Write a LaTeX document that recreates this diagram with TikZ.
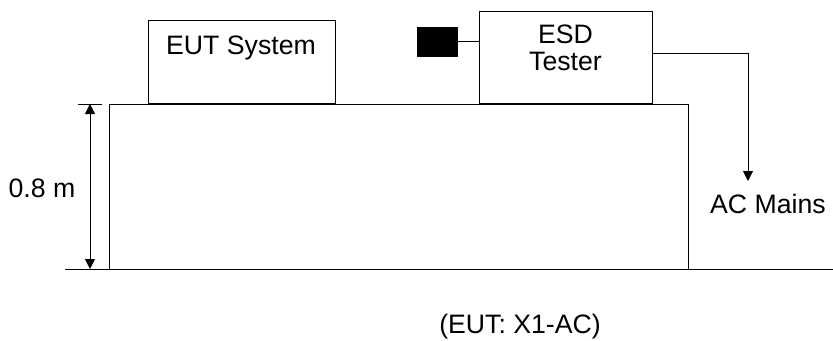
\documentclass[tikz,border=0pt]{standalone}
\usepackage{fontspec}
\setmainfont{Liberation Sans}
\usetikzlibrary{arrows.meta}
\tikzset{
  box/.style={draw, line width=0.75pt, rectangle, inner sep=0pt},
  lbl/.style={font=\fontsize{20}{22}\selectfont},
  tip/.style={-{Triangle[width=7.5pt,length=7.5pt]}},
}
\begin{document}
\begin{tikzpicture}[x=0.75pt, y=-0.75pt, line width=0.75pt]
\useasboundingbox (0,0) rectangle (833,340);

% floor and table
\path (65,269) coordinate (fl) (833,269) coordinate (fr);
\draw (fl) -- (fr);
\path (109,269) coordinate (tl) (688,269) coordinate (tr);
\draw (tl) |- (688,104) coordinate (tt) -- (tr);

% equipment on the table
\node[box, minimum width=187*0.75pt, minimum height=83*0.75pt, anchor=south west] (eut) at (148,104) {};
\node[lbl] (euttxt) at (241,48) {EUT System};
\node[box, minimum width=173*0.75pt, minimum height=92*0.75pt, anchor=south west] (esd) at (479,104) {};
\node[lbl, align=center] (esdtxt) at (565.5,48) {ESD\\[-1.5pt]Tester};
\node[fill, draw, minimum width=40*0.75pt, minimum height=29*0.75pt, inner sep=0pt] (gun) at (437,41.5) {};
\draw (gun.east) -- (gun.east -| esd.west);

% power cord
\path (esd.east) ++(0,-4) coordinate (cord);
\path (748,181) coordinate (plug);
\node[lbl] (mains) at (768,204) {AC Mains};
\draw[tip] (cord) -| (plug);

% height of the table
\draw (78,104) coordinate (hk) -- ++(24,0);
\draw[{Triangle[width=7.5pt,length=7.5pt]}-{Triangle[width=7.5pt,length=7.5pt]}] (90,104) -- (90,269);
\node[lbl] (hgt) at (42,188) {0.8 m};

\node[lbl, anchor=base] (cap) at (520,333) {(EUT: X1-AC)};
\end{tikzpicture}
\end{document}
